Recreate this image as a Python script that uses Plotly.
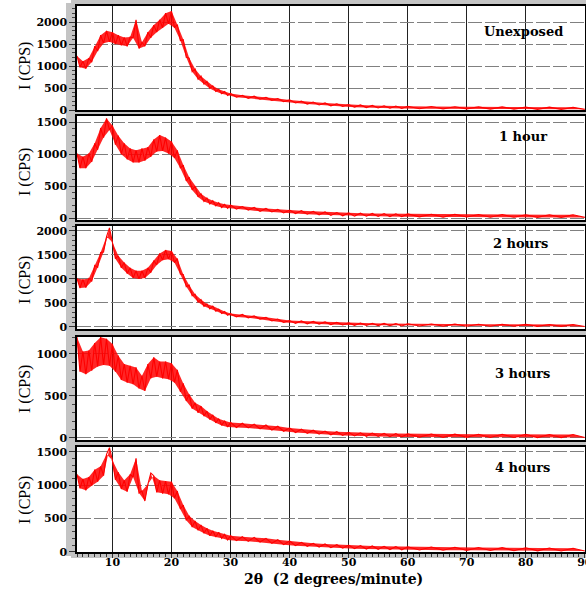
import plotly.graph_objects as go

# 2-theta grid (degrees)
two_theta = [4 + 0.5 * i for i in range(53)] + list(range(31, 61)) + list(range(62, 91, 2))

# Intensities (CPS), read as alternating upper/lower edges of the noisy trace
unexposed = [1230, 970, 1110, 940, 1180, 1090, 1450, 1340, 1700, 1520, 1800, 1550, 1770, 1500, 1700, 1470,
             1650, 1450, 1660, 1640, 2050, 1400, 1540, 1450, 1770, 1640, 1930, 1770, 2050, 1870, 2200, 1960,
             2250, 1870, 1940, 1580, 1600, 1200, 1180, 870, 930, 700, 770, 590, 650, 490, 550, 420, 470, 370,
             420, 330, 375,
             290, 335, 265, 315, 245, 290, 220, 260, 190, 230, 160, 200, 135, 180, 115, 160, 95, 140, 80, 125,
             65, 115, 55, 105, 45, 95, 40, 90, 35, 85,
             30, 80, 25, 75, 25, 70, 20, 70, 20, 65, 15, 65, 15, 60, 15]
hour1 = [1010, 780, 960, 780, 1010, 880, 1170, 1070, 1410, 1260, 1560, 1380, 1450, 1150, 1290, 1000, 1170, 920,
         1090, 870, 1060, 870, 1090, 900, 1110, 960, 1230, 1040, 1300, 1050, 1260, 1010, 1200, 940, 1060, 780,
         830, 580, 640, 440, 500, 330, 380, 260, 315, 220, 270, 190, 240, 165, 215, 150, 205,
         140, 180, 125, 165, 105, 150, 95, 135, 80, 125, 70, 115, 60, 105, 50, 95, 40, 85, 35, 80, 30, 75,
         28, 72, 25, 70, 22, 66, 20, 64,
         18, 60, 15, 58, 15, 55, 12, 55, 12, 52, 10, 50, 10, 50, 10]
hour2 = [1010, 810, 990, 820, 1010, 950, 1280, 1240, 1550, 1560, 1880, 2060, 1760, 1420, 1480, 1230, 1340, 1110,
         1230, 1020, 1170, 1000, 1170, 1020, 1230, 1130, 1380, 1290, 1530, 1390, 1600, 1410, 1580, 1340, 1420,
         1100, 1090, 840, 870, 650, 680, 520, 570, 430, 480, 375, 435, 330, 370, 280, 320, 245, 280,
         210, 260, 190, 230, 165, 200, 125, 165, 95, 135, 75, 125, 65, 115, 60, 105, 50, 95, 42, 88, 35, 82,
         32, 78, 28, 74, 25, 70, 22, 68,
         20, 62, 18, 60, 16, 58, 15, 56, 14, 54, 12, 52, 12, 50, 10]
hour3 = [1200, 790, 1030, 760, 1040, 800, 1130, 850, 1200, 870, 1180, 860, 1120, 790, 980, 690, 880, 660, 860,
         640, 840, 590, 740, 560, 880, 710, 960, 730, 910, 710, 910, 700, 890, 660, 810, 550, 650, 440, 520,
         350, 420, 300, 380, 260, 320, 220, 275, 180, 230, 150, 205, 130, 185,
         125, 175, 120, 165, 110, 155, 95, 140, 80, 120, 65, 105, 55, 92, 45, 82, 38, 75, 30, 68, 25, 62,
         20, 58, 18, 55, 15, 52, 12, 50,
         10, 48, 8, 46, 8, 45, 6, 44, 6, 44, 5, 42, 5, 42, 5]
hour4 = [1160, 950, 1090, 920, 1120, 990, 1230, 1050, 1280, 1140, 1460, 1560, 1370, 1080, 1190, 940, 1070, 900,
         1160, 1120, 1400, 880, 910, 760, 1010, 1180, 1140, 890, 1070, 870, 1060, 860, 1050, 800, 910, 640,
         700, 470, 540, 370, 460, 320, 400, 275, 350, 240, 315, 220, 290, 200, 260, 175, 240,
         165, 225, 155, 215, 145, 200, 125, 180, 105, 160, 90, 140, 80, 125, 70, 115, 60, 105, 52, 98, 45, 92,
         40, 86, 35, 80, 32, 76, 28, 74,
         25, 70, 22, 66, 20, 62, 18, 60, 15, 58, 12, 55, 10, 52, 10]

series = [unexposed, hour1, hour2, hour3, hour4]
labels = ["Unexposed", "1 hour", "2 hours", "3 hours", "4 hours"]
y_ranges = [[0, 2364], [-31, 1598], [-42, 2100], [-24, 1202], [-5, 1570]]
y_ticks = [[0, 500, 1000, 1500, 2000], [0, 500, 1000, 1500], [0, 500, 1000, 1500, 2000],
           [0, 500, 1000], [0, 500, 1000, 1500]]
x_ticks = [10, 20, 30, 40, 50, 60, 70, 80, 90]

W, H = 586, 589
px_panels = [(6, 110), (116, 220), (226, 329), (337, 440), (447, 552)]
label_pos = [(523, 32), (523, 137), (520, 243), (522, 373), (522, 468)]
ytitle_pos = [66, 172, 280, 389, 500]
x_left, x_right = 77, 585

def py(v):
    return 1 - v / H

def px(v):
    return v / W

tickfont = dict(family="DejaVu Serif", size=11, color="black", weight="bold")

fig = go.Figure()
layout = dict(width=W, height=H, margin=dict(l=0, r=0, t=0, b=0, autoexpand=False),
              paper_bgcolor="white", plot_bgcolor="white", showlegend=False)
shapes = []
annotations = []

for i, (vals, lab) in enumerate(zip(series, labels)):
    n = i + 1
    xa = "x" if n == 1 else f"x{n}"
    ya = "y" if n == 1 else f"y{n}"
    # noise band: upper edge (even readings) and lower edge (odd readings)
    up_x, up_y = two_theta[0::2], vals[0::2]
    lo_x, lo_y = two_theta[1::2], vals[1::2]
    fig.add_trace(go.Scatter(x=up_x + lo_x[::-1], y=up_y + lo_y[::-1], mode="lines",
                             fill="toself", fillcolor="rgba(255,0,0,0.85)",
                             line=dict(width=0, color="#ff0000"),
                             xaxis=xa, yaxis=ya, hoverinfo="skip"))
    fig.add_trace(go.Scatter(x=two_theta, y=vals, mode="lines",
                             line=dict(color="#ff0000", width=1.1),
                             xaxis=xa, yaxis=ya, hoverinfo="skip"))
    top, bot = px_panels[i]
    last = (n == 5)
    layout[f"xaxis{'' if n == 1 else n}"] = dict(
        domain=[px(x_left), px(x_right)], anchor=ya, range=[4, 90.03], automargin=False,
        tickvals=x_ticks, showticklabels=last, tickfont=tickfont,
        ticklabeloverflow="allow", ticklabelstandoff=-5,
        ticks="outside" if last else "", ticklen=4, tickcolor="#333",
        minor=dict(dtick=1, ticks="outside" if last else "", ticklen=3, tickcolor="#333", showgrid=False),
        showgrid=True, gridcolor="#222", gridwidth=1,
        showline=True, linecolor="black", linewidth=1.5, mirror=True,
        zeroline=False, matches=None if n == 1 else "x")
    layout[f"yaxis{'' if n == 1 else n}"] = dict(
        domain=[py(bot), py(top)], anchor=xa, range=y_ranges[i], automargin=False,
        tickvals=y_ticks[i], tickfont=tickfont,
        ticks="outside", ticklen=6, tickcolor="#333",
        minor=dict(dtick=100, ticks="outside", ticklen=3, tickcolor="#444", showgrid=False),
        showgrid=True, gridcolor="#808080", gridwidth=1, griddash="14px,3px",
        showline=True, linecolor="black", linewidth=1.5, mirror=True, zeroline=False)
    # gray panel frame
    shapes.append(dict(type="rect", xref="paper", yref="paper", layer="below",
                       x0=px(x_left - 3), x1=px(x_right + 3), y0=py(bot + 3), y1=py(top - 3),
                       line=dict(color="#c4c4c4", width=6), fillcolor="rgba(0,0,0,0)"))
    annotations.append(dict(xref="paper", yref="paper", x=px(label_pos[i][0]), y=py(label_pos[i][1]),
                            text=lab, showarrow=False, xanchor="center", yanchor="middle",
                            font=dict(family="DejaVu Serif", size=13, color="black", weight="bold")))
    annotations.append(dict(xref="paper", yref="paper", x=px(25), y=py(ytitle_pos[i]),
                            text="I (CPS)", showarrow=False, textangle=-90,
                            xanchor="center", yanchor="middle",
                            font=dict(family="Liberation Serif", size=16, color="black")))

# left gray band with tick marks
shapes.append(dict(type="rect", xref="paper", yref="paper", layer="below",
                   x0=px(66), x1=px(x_left), y0=py(556), y1=py(3),
                   line=dict(width=0), fillcolor="#c4c4c4"))

annotations.append(dict(xref="paper", yref="paper", x=px(333), y=py(579),
                        text="2θ  (2 degrees/minute)", showarrow=False,
                        xanchor="center", yanchor="middle",
                        font=dict(family="DejaVu Serif", size=14, color="black", weight="bold")))

layout["shapes"] = shapes
layout["annotations"] = annotations
fig.update_layout(**layout)
fig.write_html("out.html", config={"displayModeBar": False},
               post_script="document.body.style.margin='0';document.body.style.padding='0';"
                           "document.body.style.overflow='hidden';")
